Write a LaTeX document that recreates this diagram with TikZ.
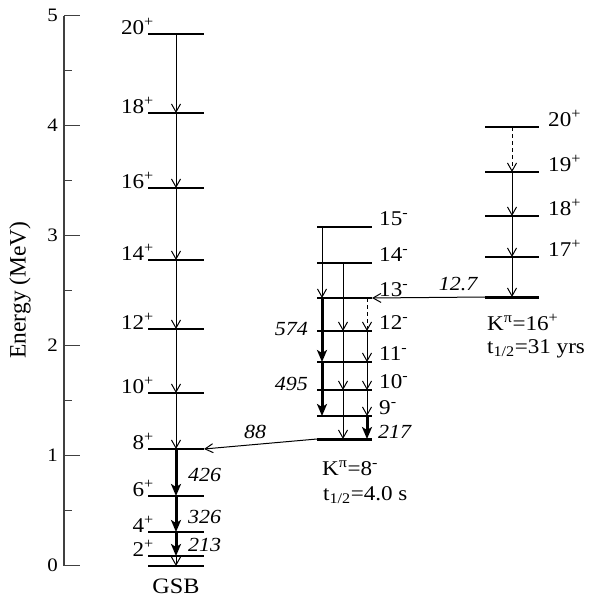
\documentclass[tikz,border=0pt]{standalone}
\usepackage{fontspec}
\usepackage{graphicx}
\setmainfont{Liberation Serif}
\usetikzlibrary{arrows.meta}
\newcommand{\hsc}[1]{\scalebox{1.1}[1]{#1}}
\begin{document}
\begin{tikzpicture}[x=1pt,y=-1pt,
  axisline/.style={line width=1.3pt,black!75},
  lvl/.style={line width=1.2pt},
  headlvl/.style={line width=3pt},
  tr/.style={line width=1pt,-{Straight Barb[length=8pt,width=9pt,line width=1pt]}},
  trd/.style={tr,dash pattern=on 4pt off 3pt},
  tk/.style={line width=3pt,-{Stealth[length=12pt,width=10pt,inset=3pt]}},
  lab/.style={font=\fontsize{21}{24}\selectfont, inner sep=0pt},
  axlab/.style={font=\fontsize{19}{22}\selectfont, inner sep=0pt},
  elab/.style={font=\fontsize{20}{23}\selectfont\itshape, inner sep=0pt},
]
\useasboundingbox (0,0) rectangle (593,597);

% ---- axis ----
\draw[axisline] (64,15.7) -- (64,565.7);
\foreach \e in {0,1,2,3,4,5}{
  \draw[axisline] (64,565.7-110*\e) -- (80,565.7-110*\e);
  \node[axlab,anchor=east] (ax\e) at (58,565.7-110*\e) {\hsc{\e}};
}
\foreach \e in {0.5,1.5,2.5,3.5,4.5}{
  \draw[axisline] (64,565.7-110*\e) -- (72,565.7-110*\e);
}
\node[font=\fontsize{23.5}{26}\selectfont,rotate=90,inner sep=0pt] (ylab) at (20,290) {Energy (MeV)};

% ---- GSB ----
\foreach \n/\y in {20/34,18/113,16/188,14/260,12/329,10/393,8/449,6/496,4/532,2/556,0/566}{
  \coordinate (g\n L) at (148,\y);
  \coordinate (g\n R) at (204,\y);
  \coordinate (g\n A) at (176,\y);
  \draw[lvl] (g\n L) -- (g\n R);
}
\foreach \n in {20,18,16,14,12,10,8,6,4,2}{
  \node[lab,anchor=base east] (gl\n) at ([xshift=6pt]g\n L) {\hsc{\n\textsuperscript{+}}};
}
\draw[tr] (g20A) -- (g18A);
\draw[tr] (g18A) -- (g16A);
\draw[tr] (g16A) -- (g14A);
\draw[tr] (g14A) -- (g12A);
\draw[tr] (g12A) -- (g10A);
\draw[tr] (g10A) -- (g8A);
\draw[tk] (g8A) -- (g6A);
\draw[tk] (g6A) -- (g4A);
\draw[tk] (g4A) -- (g2A);
\draw[tr] (g2A) -- (g0A);
\node[elab,anchor=base west] (e426) at (188,481) {\hsc{426}};
\node[elab,anchor=base west] (e326) at (188,523) {\hsc{326}};
\node[elab,anchor=base west] (e213) at (188,551) {\hsc{213}};
\node[font=\fontsize{22}{24}\selectfont,inner sep=0pt,anchor=base] (gsb) at (176,593) {\hsc{GSB}};

% ---- K=8- band ----
\foreach \n/\y in {15/227,14/263,13/298,12/331,11/362,10/390,9/416,8/439}{
  \coordinate (m\n L) at (317,\y);
  \coordinate (m\n R) at (372,\y);
  \coordinate (m\n a) at (322,\y);
  \coordinate (m\n b) at (343,\y);
  \coordinate (m\n c) at (367,\y);
}
\foreach \n in {15,14,13,12,11,10,9}{
  \draw[lvl] (m\n L) -- (m\n R);
  \node[lab,anchor=base west] (ml\n) at ([xshift=7pt,yshift=2pt]m\n R) {\hsc{\n\textsuperscript{-}}};
}
\draw[headlvl] (m8L) -- (m8R);
\draw[tr] (m15a) -- (m13a);
\draw[tk] (m13a) -- (m11a);
\draw[tk] (m11a) -- (m9a);
\draw[tr] (m14b) -- (m12b);
\draw[tr] (m12b) -- (m10b);
\draw[tr] (m10b) -- (m8b);
\draw[trd] (m13c) -- (m12c);
\draw[tr] (m12c) -- (m11c);
\draw[tr] (m11c) -- (m10c);
\draw[tr] (m10c) -- (m9c);
\draw[tk] (m9c) -- (m8c);
\node[elab,anchor=base east] (e574) at (308,335) {\hsc{574}};
\node[elab,anchor=base east] (e495) at (308,390) {\hsc{495}};
\node[elab,anchor=base west] (e217) at (378,438) {\hsc{217}};
\node[lab,anchor=base west] (k8) at (322,475) {\hsc{K\textsuperscript{π}=8\textsuperscript{-}}};
\node[lab,anchor=base west] (t8) at (323,500) {\hsc{t\textsubscript{1/2}=4.0 s}};

% ---- K=16+ band ----
\foreach \n/\y in {20/127,19/172,18/216,17/257,16/297}{
  \coordinate (r\n L) at (485,\y);
  \coordinate (r\n R) at (539,\y);
  \coordinate (r\n A) at (512,\y);
}
\foreach \n in {20,19,18,17}{
  \draw[lvl] (r\n L) -- (r\n R);
  \node[lab,anchor=base west] (rl\n) at ([xshift=9pt,yshift=1pt]r\n R) {\hsc{\n\textsuperscript{+}}};
}
\draw[headlvl] (r16L) -- (r16R);
\draw[trd] (r20A) -- (r19A);
\draw[tr] (r19A) -- (r18A);
\draw[tr] (r18A) -- (r17A);
\draw[tr] (r17A) -- (r16A);
\node[lab,anchor=base west] (k16) at (487,330) {\hsc{K\textsuperscript{π}=16\textsuperscript{+}}};
\node[lab,anchor=base west] (t16) at (487,353) {\hsc{t\textsubscript{1/2}=31 yrs}};

% ---- inter-band transitions ----
\draw[tr] (r16L) -- (m13R);
\node[elab,anchor=base] (e127) at (458,290) {\hsc{12.7}};
\draw[tr] (m8L) -- (g8R);
\node[elab,anchor=base] (e88) at (255,438) {\hsc{88}};
\end{tikzpicture}
\end{document}
